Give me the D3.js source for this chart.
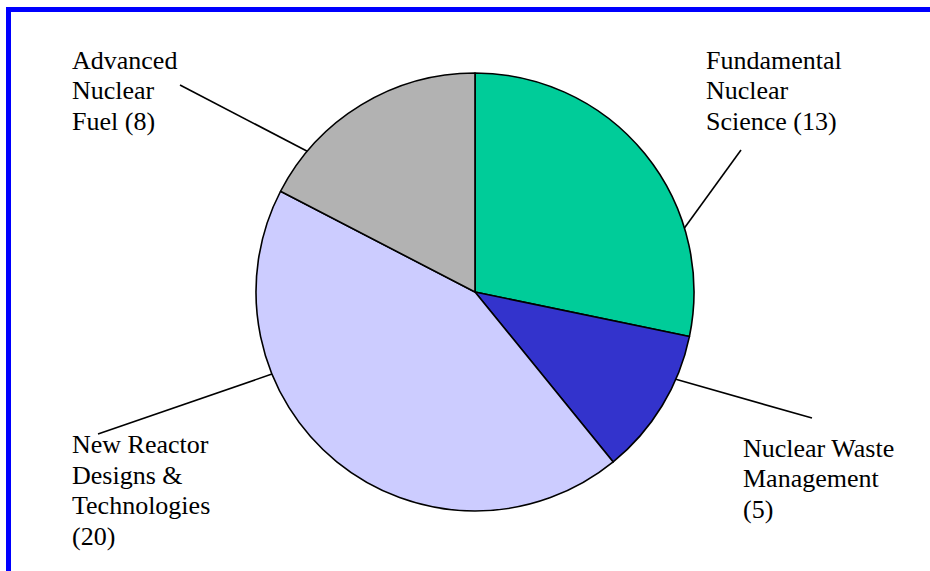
<!DOCTYPE html>
<html>
<head>
<meta charset="utf-8">
<script src="https://cdn.jsdelivr.net/npm/d3@7"></script>
<style>
  html, body { margin: 0; padding: 0; background: #fff; }
  svg { display: block; }
  .lbl { font-family: "Liberation Serif", "Times New Roman", Times, serif; }
</style>
</head>
<body>
<script>
// ---- data ----
const categories = ["Fundamental Nuclear Science", "Nuclear Waste Management", "New Reactor Designs & Technologies", "Advanced Nuclear Fuel"];
const values = [13, 5, 20, 8];
const labelLines = [
  ["Fundamental", "Nuclear", "Science (13)"],
  ["Nuclear Waste", "Management", "(5)"],
  ["New Reactor", "Designs &", "Technologies", "(20)"],
  ["Advanced", "Nuclear", "Fuel (8)"]
];
const colors = ["#00CC99", "#3333CC", "#CCCCFF", "#B2B2B2"];

// ---- layout (positions / styling) ----
const W = 930, H = 571;
const cx = 475, cy = 292, R = 219;
const labelLayout = [
  { x: 706, y: 68.5, leaderDeg: 73,  end: [741, 150] },
  { x: 743, y: 456.5, leaderDeg: 113.5, end: [812, 418] },
  { x: 72,  y: 453, leaderDeg: 248, end: [98, 434] },
  { x: 72,  y: 68.5, leaderDeg: 310, end: [180, 85] }
];
const lineH = 30.6;

const svg = d3.select("body").append("svg").attr("width", W).attr("height", H);
svg.append("rect").attr("width", W).attr("height", H).attr("fill", "#fff");

// frame (top and left edges visible)
svg.append("line").attr("x1", 6).attr("y1", 9.5).attr("x2", W).attr("y2", 9.5)
  .attr("stroke", "#0000FF").attr("stroke-width", 5);
svg.append("line").attr("x1", 8.5).attr("y1", 7).attr("x2", 8.5).attr("y2", H)
  .attr("stroke", "#0000FF").attr("stroke-width", 5);

const pie = d3.pie().sort(null).value(d => d)(values);
const arc = d3.arc().innerRadius(0).outerRadius(R);

const g = svg.append("g").attr("transform", `translate(${cx},${cy})`);
g.selectAll("path.slice").data(pie).enter().append("path")
  .attr("class", "slice")
  .attr("d", arc)
  .attr("fill", (d, i) => colors[i])
  .attr("stroke", "#000")
  .attr("stroke-width", 1.6)
  .attr("stroke-linejoin", "round");

// leader lines
labelLayout.forEach((L, i) => {
  const a = L.leaderDeg * Math.PI / 180;
  const px = cx + R * Math.sin(a), py = cy - R * Math.cos(a);
  svg.append("line")
    .attr("x1", px).attr("y1", py).attr("x2", L.end[0]).attr("y2", L.end[1])
    .attr("stroke", "#000").attr("stroke-width", 1.6);
});

// labels
labelLayout.forEach((L, i) => {
  const t = svg.append("text")
    .attr("class", "lbl")
    .attr("x", L.x).attr("y", L.y)
    .attr("font-size", 26)
    .attr("fill", "#000");
  labelLines[i].forEach((s, j) => {
    t.append("tspan").attr("x", L.x).attr("y", L.y + j * lineH).text(s);
  });
});
</script>
</body>
</html>
